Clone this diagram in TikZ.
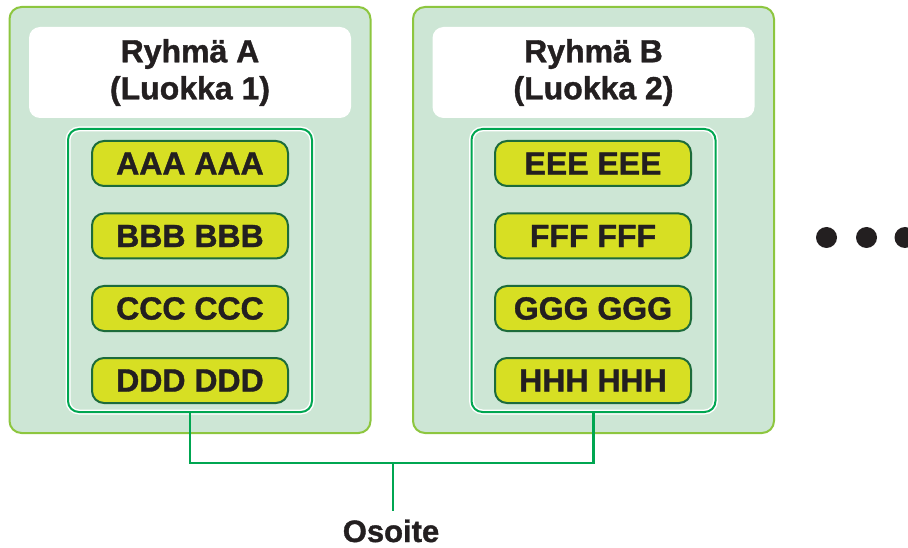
\documentclass[tikz,border=0pt]{standalone}
\usepackage{fontspec}
\setmainfont{Liberation Sans}[BoldFeatures={FakeBold=1.2}]
\definecolor{outerfill}{HTML}{CDE6D5}
\definecolor{outerline}{HTML}{8DC63F}
\definecolor{innerline}{HTML}{00A651}
\definecolor{pillfill}{HTML}{D7DF23}
\definecolor{pillline}{HTML}{1D6B3B}
\definecolor{txt}{HTML}{231F20}
\begin{document}
\begin{tikzpicture}[x=1pt,y=-1pt,
  outerbox/.style={draw=outerline, fill=outerfill, line width=2pt, rounded corners=12pt, minimum width=361pt, minimum height=426pt, inner sep=0pt},
  headbox/.style={fill=white, rounded corners=11pt, minimum width=322pt, minimum height=91pt, inner sep=0pt, align=center, font=\bfseries\fontsize{32}{37}\selectfont, text=txt},
  innerbox/.style={draw=innerline, line width=2pt, preaction={draw=white, line width=5pt}, rounded corners=11pt, minimum width=244pt, minimum height=283pt, inner sep=0pt},
  pill/.style={draw=pillline, fill=pillfill, line width=2pt, rounded corners=12pt, minimum width=196pt, minimum height=45pt, inner sep=0pt, font=\bfseries\fontsize{32}{36}\selectfont, text=txt},
  conn/.style={draw=innerline, line width=2.2pt},
  lbl/.style={font=\bfseries\fontsize{31}{36}\selectfont, text=txt, inner sep=0pt}
]
\useasboundingbox (0,0) rectangle (908,548);
% group A
\node[outerbox] (outA) at (190,220) {};
\node[headbox] (headA) at (190,72.5) {Ryhmä A\\(Luokka 1)};
\node[innerbox] (inA) at (190,270.5) {};
\node[pill] (pA1) at (190,163.5) {AAA AAA};
\node[pill] (pA2) at (190,236) {BBB BBB};
\node[pill] (pA3) at (190,308.5) {CCC CCC};
\node[pill] (pA4) at (190,380.5) {DDD DDD};
% group B
\node[outerbox] (outB) at (593.5,220) {};
\node[headbox] (headB) at (593.5,72.5) {Ryhmä B\\(Luokka 2)};
\node[innerbox] (inB) at (593.5,270.5) {};
\node[pill] (pB1) at (593,163.5) {EEE EEE};
\node[pill] (pB2) at (593,236) {FFF FFF};
\node[pill] (pB3) at (593,308.5) {GGG GGG};
\node[pill] (pB4) at (593,380.5) {HHH HHH};
% connectors
\coordinate (junc) at (393,463);
\coordinate (lineend) at (393,511);
\draw[conn] (inA.south) |- (junc) -| (inB.south);
\draw[conn] (junc) -- (lineend);
\node[lbl, anchor=base] (osoite) at (391,542) {Osoite};
% dots
\fill[txt] (826.5,237.5) circle (10.5);
\fill[txt] (866.5,237.5) circle (10.5);
\fill[txt] (905,237.5) circle (10.5);
\end{tikzpicture}
\end{document}
